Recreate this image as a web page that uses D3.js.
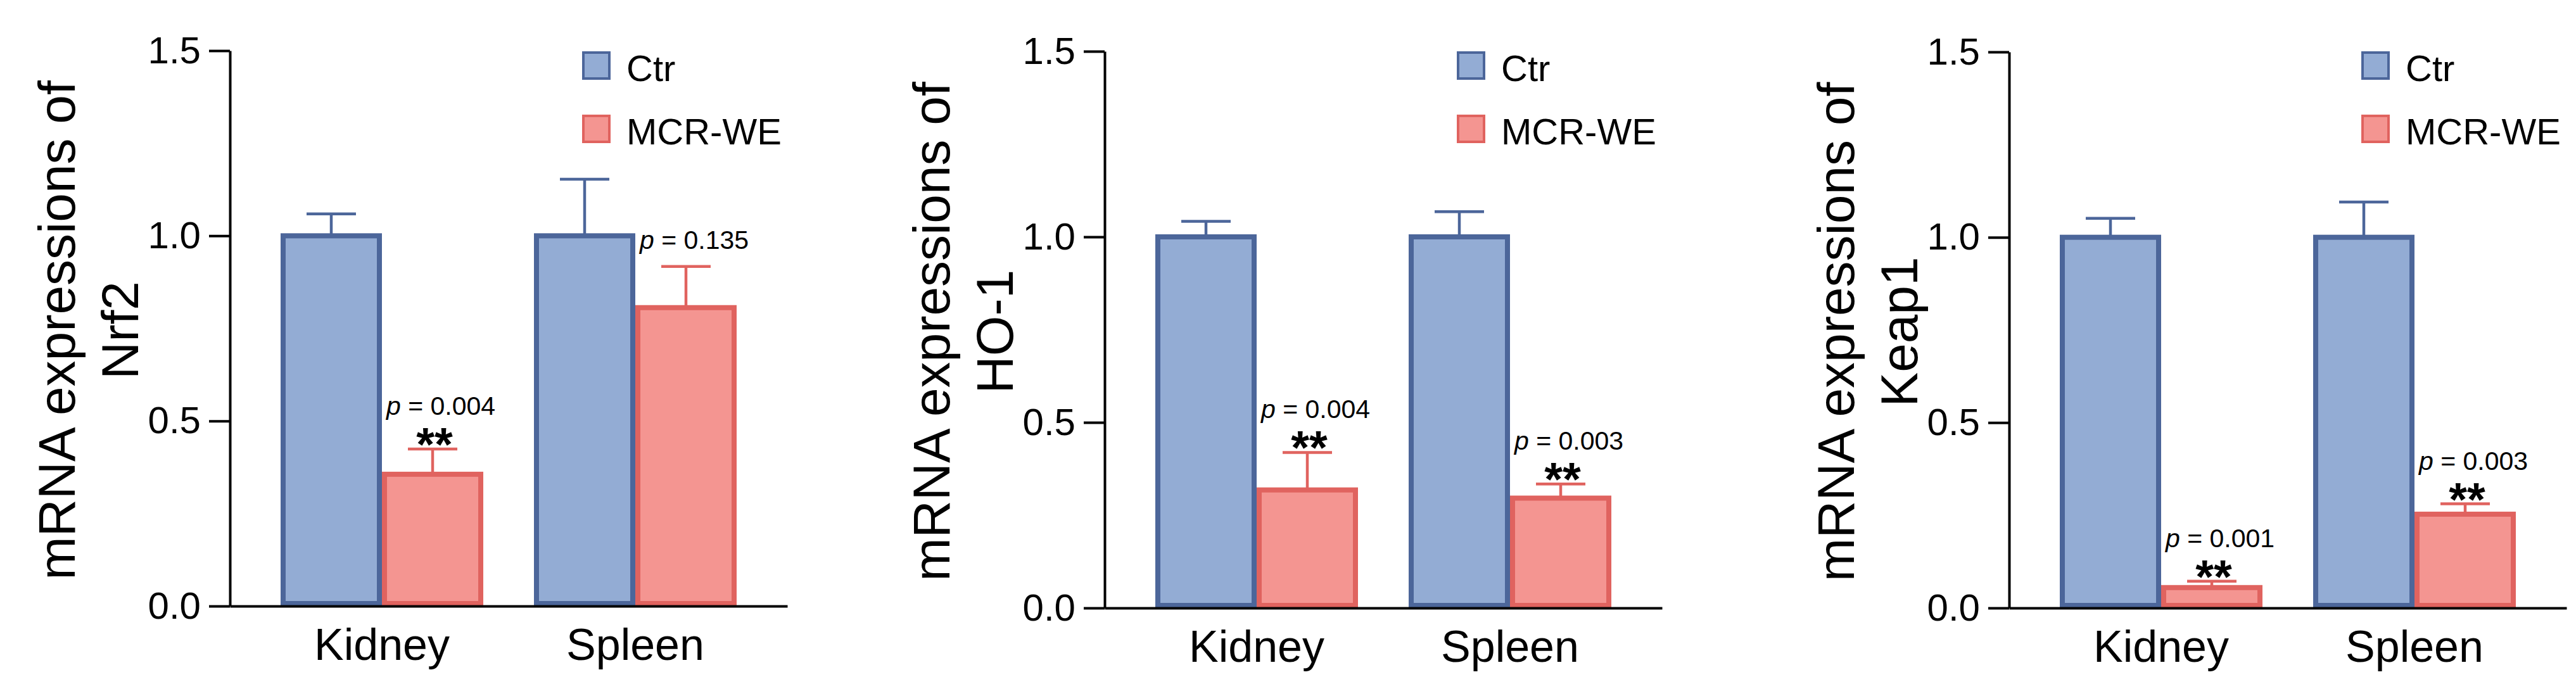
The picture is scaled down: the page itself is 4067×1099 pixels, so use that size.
<!DOCTYPE html>
<html lang="en">
<head>
  <meta charset="UTF-8">
  <script src="https://cdn.jsdelivr.net/npm/d3@7"></script>
  <title>mRNA expressions</title>
  <style>
    body { margin: 0; background: #fff; }
    svg text { font-family: "Liberation Sans", Arial, sans-serif; fill: #000; }
  </style>
</head>
<body>
  <svg id="chart" width="4067" height="1099"></svg>
  <script>

  /* DATA */
  const groups = ["Kidney", "Spleen"];
  const series = ["Ctr", "MCR-WE"];
  const genes = ["Nrf2", "HO-1", "Keap1"];
  const yTicks = [0, 0.5, 1.0, 1.5];

  // means and upper error (SEM) per group
  const nrf2Ctr = [1.0, 1.0];
  const nrf2CtrErr = [0.059, 0.153];
  const nrf2Mcr = [0.356, 0.806];
  const nrf2McrErr = [0.068, 0.111];
  const nrf2P = ["0.004", "0.135"];
  const nrf2Stars = ["**", ""];

  const ho1Ctr = [1.0, 1.0];
  const ho1CtrErr = [0.042, 0.068];
  const ho1Mcr = [0.318, 0.296];
  const ho1McrErr = [0.101, 0.038];
  const ho1P = ["0.004", "0.003"];
  const ho1Stars = ["**", "**"];

  const keap1Ctr = [1.0, 1.0];
  const keap1CtrErr = [0.051, 0.095];
  const keap1Mcr = [0.055, 0.253];
  const keap1McrErr = [0.017, 0.028];
  const keap1P = ["0.001", "0.003"];
  const keap1Stars = ["**", "**"];

  const panels = [
    {gene: genes[0], ctr: nrf2Ctr, ctrErr: nrf2CtrErr, mcr: nrf2Mcr, mcrErr: nrf2McrErr, p: nrf2P, stars: nrf2Stars},
    {gene: genes[1], ctr: ho1Ctr, ctrErr: ho1CtrErr, mcr: ho1Mcr, mcrErr: ho1McrErr, p: ho1P, stars: ho1Stars},
    {gene: genes[2], ctr: keap1Ctr, ctrErr: keap1CtrErr, mcr: keap1Mcr, mcrErr: keap1McrErr, p: keap1P, stars: keap1Stars}
  ];

  /* LAYOUT */
  const panelX = [363, 1744, 3172];   // x of each y axis
  const panelY0 = [957, 960, 960];    // y of 0.0
  const panelY1 = [80, 81, 82];       // y of 1.5
  const fills = {"Ctr": "#93acd4", "MCR-WE": "#f49591"};
  const strokes = {"Ctr": "#4c669a", "MCR-WE": "#e0635f"};
  const barStroke = 8;
  const capW = 78;

  let svg = d3.select("#chart");

  panels.forEach((pd, i) => {
    let g = svg.append("g").attr("transform", `translate(${panelX[i]},0)`);

    /* SCALES */
    let y = d3.scaleLinear().domain([0, 1.5]).range([panelY0[i], panelY1[i]]);
    let x0 = d3.scaleBand().domain(groups).range([0, 880]).paddingInner(0.2).paddingOuter(0.2);
    let x1 = d3.scaleBand().domain(series).range([0, x0.bandwidth()]);

    // flatten into one row per bar
    let rows = [];
    groups.forEach((grp, j) => {
      rows.push({grp: grp, s: "Ctr", v: pd.ctr[j], e: pd.ctrErr[j]});
      rows.push({grp: grp, s: "MCR-WE", v: pd.mcr[j], e: pd.mcrErr[j], p: pd.p[j], stars: pd.stars[j]});
    });
    let cx = d => x0(d.grp) + x1(d.s) + x1.bandwidth() / 2;

    /* ERROR BARS */
    let err = g.selectAll(".err").data(rows).enter().append("g")
      .attr("stroke", d => strokes[d.s])
      .attr("stroke-width", 4.5);
    err.append("line")
      .attr("x1", cx).attr("x2", cx)
      .attr("y1", d => y(d.v)).attr("y2", d => y(d.v + d.e));
    err.append("line")
      .attr("x1", d => cx(d) - capW / 2).attr("x2", d => cx(d) + capW / 2)
      .attr("y1", d => y(d.v + d.e)).attr("y2", d => y(d.v + d.e));

    /* BARS */
    g.selectAll(".bar").data(rows).enter().append("rect")
      .attr("x", d => x0(d.grp) + x1(d.s) + barStroke / 2)
      .attr("width", x1.bandwidth() - barStroke)
      .attr("y", d => y(d.v))
      .attr("height", d => y(0) - barStroke / 2 - y(d.v))
      .attr("fill", d => fills[d.s])
      .attr("stroke", d => strokes[d.s])
      .attr("stroke-width", barStroke);

    /* P VALUES */
    let ann = rows.filter(d => d.p);
    let pText = g.selectAll(".pval").data(ann).enter().append("text")
      .attr("x", d => cx(d) + 13)
      .attr("y", d => y(d.v + d.e) - (d.stars ? 54 : 28))
      .attr("text-anchor", "middle")
      .style("font-size", "41px");
    pText.append("tspan").style("font-style", "italic").text("p");
    pText.append("tspan").text(d => " = " + d.p);

    g.selectAll(".stars").data(ann.filter(d => d.stars)).enter().append("text")
      .attr("x", d => cx(d) + 3)
      .attr("y", d => y(d.v + d.e) + 18)
      .attr("text-anchor", "middle")
      .style("font-size", "74px")
      .style("font-weight", "bold")
      .text(d => d.stars);

    /* AXES */
    let axisY = d3.axisLeft(y).tickValues(yTicks).tickFormat(d3.format(".1f"))
      .tickSize(33).tickPadding(13).tickSizeOuter(0);
    let gy = g.append("g").call(axisY);
    gy.selectAll("path, line").attr("stroke", "#000").attr("stroke-width", 4);
    gy.selectAll("text").style("font-size", "60px").attr("fill", "#000");

    let axisX = d3.axisBottom(x0).tickSize(0).tickSizeOuter(0);
    let gx = g.append("g").attr("transform", `translate(0,${y(0)})`).call(axisX);
    gx.select(".domain").attr("stroke", "#000").attr("stroke-width", 4);
    gx.selectAll("text").attr("y", 85).attr("dy", 0)
      .style("font-size", "70px").attr("fill", "#000");

    /* Y LABEL */
    let midY = (y(0) + y(1.5)) / 2 + 3;
    let lab = g.append("text")
      .attr("transform", `translate(-245,${midY}) rotate(-90)`)
      .attr("text-anchor", "middle")
      .style("font-size", "82px");
    lab.append("tspan").attr("x", 0).attr("y", 0).text("mRNA expressions of");
    lab.append("tspan").attr("x", 0).attr("y", 100).text(pd.gene);

    /* LEGEND */
    let leg = g.selectAll(".legend").data(series).enter().append("g")
      .attr("transform", (d, k) => `translate(558,${83 + k * 100})`);
    leg.append("rect")
      .attr("width", 41).attr("height", 41)
      .attr("fill", d => fills[d])
      .attr("stroke", d => strokes[d])
      .attr("stroke-width", 4);
    leg.append("text")
      .attr("x", 68).attr("y", 45)
      .style("font-size", "58px")
      .text(d => d);
  });

  </script>
</body>
</html>
